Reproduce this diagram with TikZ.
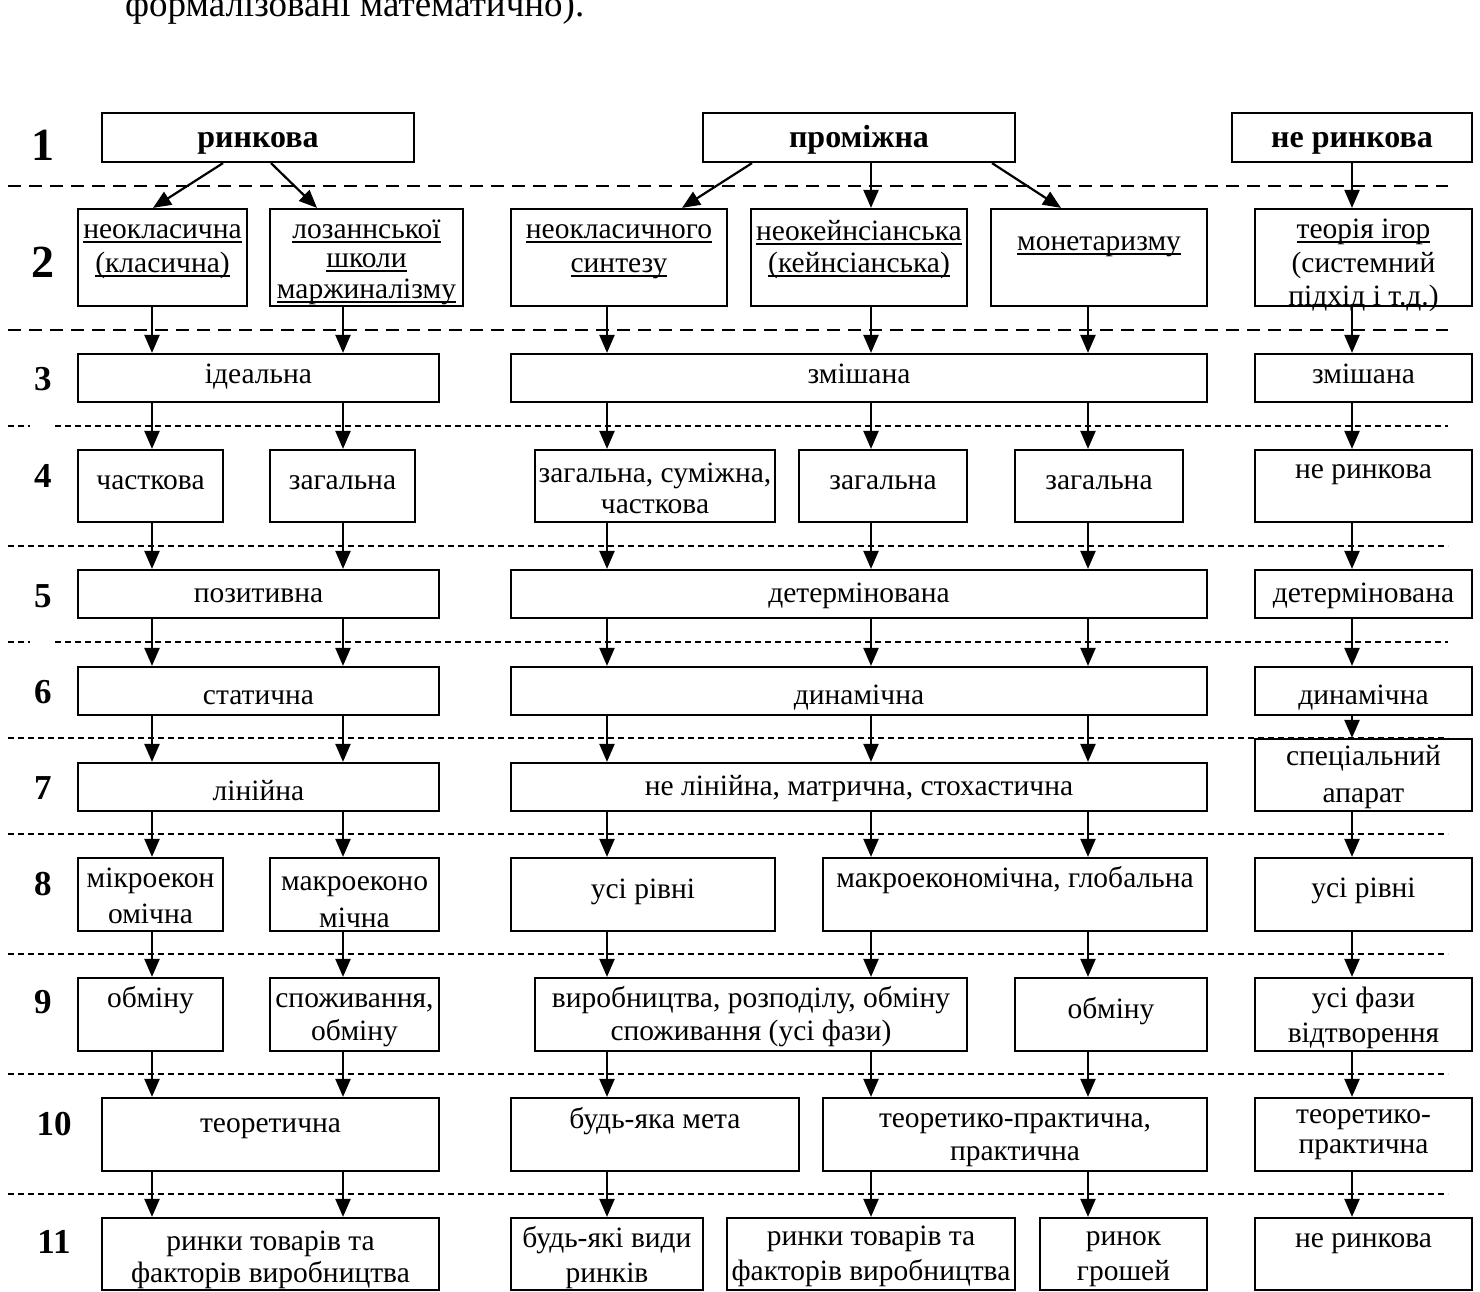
\documentclass[tikz,border=0pt]{standalone}
\usepackage{fontspec}
\setmainfont{Liberation Serif}
\usetikzlibrary{arrows.meta,fit}

\tikzset{
  box/.style={draw, line width=2.2pt, inner sep=0pt},
  txt/.style={inner sep=0pt, anchor=base, font=\fontsize{29.5}{34}\selectfont},
  head/.style={inner sep=0pt, anchor=base, font=\fontsize{32}{36}\selectfont\bfseries},
  bignum/.style={inner sep=0pt, anchor=base, font=\fontsize{46}{50}\selectfont\bfseries},
  rownum/.style={inner sep=0pt, anchor=base, font=\fontsize{35}{40}\selectfont\bfseries},
  arr/.style={line width=2.2pt, -{Triangle[length=18pt,width=15pt]}},
  thickdash/.style={line width=2.4pt, dash pattern=on 13pt off 8pt},
  thindash/.style={line width=1.3pt, dash pattern=on 6pt off 4pt},
}

% box given by two corners
\newcommand{\bx}[5]{\node[box, fit={(#2,#3) (#4,#5)}] (#1) {};}
% one text line centred in a box, at a given baseline
\newcommand{\tx}[3]{\node[txt] (#1-#2) at (#1.center |- 0,#2) {#3};}
\newcommand{\hd}[3]{\node[head] (#1-#2) at (#1.center |- 0,#2) {#3};}
% vertical arrow between two boxes along a column
\newcommand{\va}[3]{\draw[arr] (#1.south -| #3) -- (#2.north -| #3);}
% underline at a fixed distance below the baseline
\newcommand{\ul}[1]{\setbox0=\hbox{#1}\rlap{\rule[-4.5pt]{\wd0}{1.9pt}}\box0}

\begin{document}
\begin{tikzpicture}[x=1pt, y=-1pt]
\useasboundingbox (0,0) rectangle (1480,1291);
\fill[white] (0,0) rectangle (1480,1291);

% text of the preceding paragraph
\node[inner sep=0pt, anchor=base west, font=\fontsize{37}{40}\selectfont] (para) at (125,16) {формалізовані математично).};

% column positions
\coordinate (cA) at (152,0);
\coordinate (cB) at (343,0);
\coordinate (cC) at (607,0);
\coordinate (cD) at (871,0);
\coordinate (cE) at (1088,0);
\coordinate (cF) at (1352,0);

% separators between levels
\draw[thickdash] (8,186) -- (1448,186);
\draw[thickdash] (8,330) -- (1448,330);
\draw[thindash] (8,426) -- (30,426);
\draw[thindash] (55,426) -- (1448,426);
\draw[thindash] (8,546) -- (1448,546);
\draw[thindash] (8,642) -- (30,642);
\draw[thindash] (55,642) -- (1448,642);
\draw[thindash] (8,738) -- (1448,738);
\draw[thindash] (8,834) -- (1448,834);
\draw[thindash] (8,954) -- (1448,954);
\draw[thindash] (8,1074) -- (1448,1074);
\draw[thindash] (8,1194) -- (1448,1194);

% level numbers
\node[bignum] (n1) at (43,160) {1};
\node[bignum] (n2) at (43,277) {2};
\node[rownum] (n3) at (43,390) {3};
\node[rownum] (n4) at (43,487) {4};
\node[rownum] (n5) at (43,607) {5};
\node[rownum] (n6) at (43,703) {6};
\node[rownum] (n7) at (43,799) {7};
\node[rownum] (n8) at (43,895) {8};
\node[rownum] (n9) at (43,1013) {9};
\node[rownum] (n10) at (54,1135) {10};
\node[rownum] (n11) at (54,1253) {11};

% level 1
\bx{r1a}{102}{113}{414}{162} \hd{r1a}{147}{ринкова}
\bx{r1b}{703}{113}{1015}{162} \hd{r1b}{147}{проміжна}
\bx{r1c}{1232}{113}{1472}{162} \hd{r1c}{147}{не ринкова}

% level 2
\bx{r2a}{78}{209}{247}{306} \tx{r2a}{238}{\ul{неокласична}} \tx{r2a}{272}{\ul{(класична)}}
\bx{r2b}{270}{209}{463}{306} \tx{r2b}{238}{\ul{лозаннської}} \tx{r2b}{267}{\ul{школи}} \tx{r2b}{298}{\ul{маржиналізму}}
\bx{r2c}{511}{209}{727}{306} \tx{r2c}{238}{\ul{неокласичного}} \tx{r2c}{272}{\ul{синтезу}}
\bx{r2d}{751}{209}{967}{306} \tx{r2d}{240}{\ul{неокейнсіанська}} \tx{r2d}{272}{\ul{(кейнсіанська)}}
\bx{r2e}{991}{209}{1207}{306} \tx{r2e}{250}{\ul{монетаризму}}
\bx{r2f}{1255}{209}{1472}{306} \tx{r2f}{238}{\ul{теорія ігор}} \tx{r2f}{272}{(системний} \tx{r2f}{305}{підхід і т.д.)}

% level 3
\bx{r3a}{78}{354}{439}{402} \tx{r3a}{383}{ідеальна}
\bx{r3b}{511}{354}{1207}{402} \tx{r3b}{383}{змішана}
\bx{r3c}{1255}{354}{1472}{402} \tx{r3c}{383}{змішана}

% level 4
\bx{r4a}{78}{450}{223}{522} \tx{r4a}{489}{часткова}
\bx{r4b}{270}{450}{415}{522} \tx{r4b}{489}{загальна}
\bx{r4c}{535}{450}{775}{522} \tx{r4c}{482}{загальна, суміжна,} \tx{r4c}{513}{часткова}
\bx{r4d}{799}{450}{967}{522} \tx{r4d}{489}{загальна}
\bx{r4e}{1015}{450}{1183}{522} \tx{r4e}{489}{загальна}
\bx{r4f}{1255}{450}{1472}{522} \tx{r4f}{478}{не ринкова}

% level 5
\bx{r5a}{78}{570}{439}{618} \tx{r5a}{602}{позитивна}
\bx{r5b}{511}{570}{1207}{618} \tx{r5b}{602}{детермінована}
\bx{r5c}{1255}{570}{1472}{618} \tx{r5c}{602}{детермінована}

% level 6
\bx{r6a}{78}{667}{439}{715} \tx{r6a}{704}{статична}
\bx{r6b}{511}{667}{1207}{715} \tx{r6b}{704}{динамічна}
\bx{r6c}{1255}{667}{1472}{715} \tx{r6c}{704}{динамічна}

% level 7
\bx{r7a}{78}{763}{439}{811} \tx{r7a}{800}{лінійна}
\bx{r7b}{511}{763}{1207}{811} \tx{r7b}{795}{не лінійна, матрична, стохастична}
\bx{r7c}{1255}{739}{1472}{811} \tx{r7c}{765}{спеціальний} \tx{r7c}{802}{апарат}

% level 8
\bx{r8a}{78}{858}{223}{931} \tx{r8a}{887}{мікроекон} \tx{r8a}{923}{омічна}
\bx{r8b}{270}{858}{439}{931} \tx{r8b}{890}{макроеконо} \tx{r8b}{927}{мічна}
\bx{r8c}{511}{858}{775}{931} \tx{r8c}{898}{усі рівні}
\bx{r8d}{823}{858}{1207}{931} \tx{r8d}{887}{макроекономічна, глобальна}
\bx{r8e}{1255}{858}{1472}{931} \tx{r8e}{897}{усі рівні}

% level 9
\bx{r9a}{78}{978}{223}{1051} \tx{r9a}{1007}{обміну}
\bx{r9b}{270}{978}{439}{1051} \tx{r9b}{1007}{споживання,} \tx{r9b}{1040}{обміну}
\bx{r9c}{535}{978}{967}{1051} \tx{r9c}{1007}{виробництва, розподілу, обміну} \tx{r9c}{1040}{споживання (усі фази)}
\bx{r9d}{1015}{978}{1207}{1051} \tx{r9d}{1018}{обміну}
\bx{r9e}{1255}{978}{1472}{1051} \tx{r9e}{1007}{усі фази} \tx{r9e}{1042}{відтворення}

% level 10
\bx{r10a}{102}{1098}{439}{1171} \tx{r10a}{1132}{теоретична}
\bx{r10b}{511}{1098}{799}{1171} \tx{r10b}{1128}{будь-яка мета}
\bx{r10c}{823}{1098}{1207}{1171} \tx{r10c}{1127}{теоретико-практична,} \tx{r10c}{1160}{практична}
\bx{r10d}{1255}{1098}{1472}{1171} \tx{r10d}{1123}{теоретико-} \tx{r10d}{1153}{практична}

% level 11
\bx{r11a}{102}{1218}{439}{1290} \tx{r11a}{1250}{ринки товарів та} \tx{r11a}{1282}{факторів виробництва}
\bx{r11b}{511}{1218}{703}{1290} \tx{r11b}{1247}{будь-які види} \tx{r11b}{1282}{ринків}
\bx{r11c}{727}{1218}{1015}{1290} \tx{r11c}{1245}{ринки товарів та} \tx{r11c}{1280}{факторів виробництва}
\bx{r11d}{1040}{1218}{1207}{1290} \tx{r11d}{1245}{ринок} \tx{r11d}{1280}{грошей}
\bx{r11e}{1255}{1218}{1472}{1290} \tx{r11e}{1247}{не ринкова}

% arrows from level 1 to level 2
\coordinate (s1) at (223,0); \coordinate (e1) at (153,0);
\coordinate (s2) at (271,0); \coordinate (e2) at (317,0);
\coordinate (s3) at (752,0); \coordinate (e3) at (682,0);
\coordinate (s4) at (992,0); \coordinate (e4) at (1061,0);
\draw[arr] (r1a.south -| s1) -- (r2a.north -| e1);
\draw[arr] (r1a.south -| s2) -- (r2b.north -| e2);
\draw[arr] (r1b.south -| s3) -- (r2c.north -| e3);
\va{r1b}{r2d}{cD}
\draw[arr] (r1b.south -| s4) -- (r2e.north -| e4);
\va{r1c}{r2f}{cF}

% level 2 to 3
\va{r2a}{r3a}{cA} \va{r2b}{r3a}{cB}
\va{r2c}{r3b}{cC} \va{r2d}{r3b}{cD} \va{r2e}{r3b}{cE}
\va{r2f}{r3c}{cF}

% level 3 to 4
\va{r3a}{r4a}{cA} \va{r3a}{r4b}{cB}
\va{r3b}{r4c}{cC} \va{r3b}{r4d}{cD} \va{r3b}{r4e}{cE}
\va{r3c}{r4f}{cF}

% level 4 to 5
\va{r4a}{r5a}{cA} \va{r4b}{r5a}{cB}
\va{r4c}{r5b}{cC} \va{r4d}{r5b}{cD} \va{r4e}{r5b}{cE}
\va{r4f}{r5c}{cF}

% level 5 to 6
\va{r5a}{r6a}{cA} \va{r5a}{r6a}{cB}
\va{r5b}{r6b}{cC} \va{r5b}{r6b}{cD} \va{r5b}{r6b}{cE}
\va{r5c}{r6c}{cF}

% level 6 to 7
\va{r6a}{r7a}{cA} \va{r6a}{r7a}{cB}
\va{r6b}{r7b}{cC} \va{r6b}{r7b}{cD} \va{r6b}{r7b}{cE}
\va{r6c}{r7c}{cF}

% level 7 to 8
\va{r7a}{r8a}{cA} \va{r7a}{r8b}{cB}
\va{r7b}{r8c}{cC} \va{r7b}{r8d}{cD} \va{r7b}{r8d}{cE}
\va{r7c}{r8e}{cF}

% level 8 to 9
\va{r8a}{r9a}{cA} \va{r8b}{r9b}{cB}
\va{r8c}{r9c}{cC} \va{r8d}{r9c}{cD} \va{r8d}{r9d}{cE}
\va{r8e}{r9e}{cF}

% level 9 to 10
\va{r9a}{r10a}{cA} \va{r9b}{r10a}{cB}
\va{r9c}{r10b}{cC} \va{r9c}{r10c}{cD} \va{r9d}{r10c}{cE}
\va{r9e}{r10d}{cF}

% level 10 to 11
\va{r10a}{r11a}{cA} \va{r10a}{r11a}{cB}
\va{r10b}{r11b}{cC} \va{r10c}{r11c}{cD} \va{r10c}{r11d}{cE}
\va{r10d}{r11e}{cF}
\end{tikzpicture}
\end{document}
